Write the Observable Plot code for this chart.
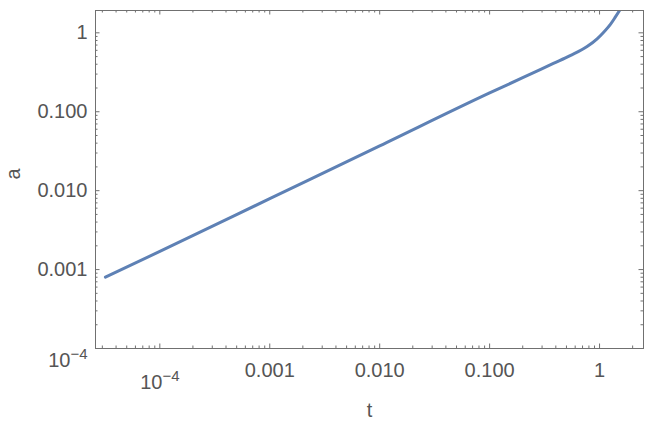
<!DOCTYPE html>
<html><head><meta charset="utf-8">
<script src="https://cdn.jsdelivr.net/npm/d3@7"></script>
<script src="https://cdn.jsdelivr.net/npm/@observablehq/plot@0.6"></script>
<style>body{margin:0;background:#fff} svg{display:block}</style>
</head><body><div id="chart"></div>
<script>
// Scale factor a(t) (log-log)
const tValues = [3.2e-5, 1e-4, 1e-3, 0.01, 0.1, 0.2, 0.38, 0.54, 0.77, 0.95, 1.09, 1.25, 1.39, 1.52];
const aValues = [0.00080, 0.00170, 0.00792, 0.0369, 0.173, 0.270, 0.41, 0.515, 0.670, 0.84, 1.02, 1.27, 1.58, 1.92];
const xTickValues = [1e-4, 1e-3, 1e-2, 1e-1, 1];
const xTickLabels = ["10^-4", "0.001", "0.010", "0.100", "1"];
const yTickValues = [1e-4, 1e-3, 1e-2, 1e-1, 1];
const yTickLabels = ["10^-4", "0.001", "0.010", "0.100", "1"];
const xLabel = "t";
const yLabel = "a";
const xDomain = [2.6e-5, 2.51];
const yDomain = [1e-4, 1.918];

const W = 652, H = 428;
const mL = 95, mR = 9, mT = 10, mB = 80;
const fw = W - mL - mR, fh = H - mT - mB;
const frameColor = "#707070", textColor = "#555555", lineColor = "#5E81B5";
const majorLen = 4.5, minorLen = 2.5;

const data = tValues.map((t, i) => ({t, a: aValues[i]}));
const xTicks = xTickValues.map((v, i) => ({v, label: xTickLabels[i]}));
const yTicks = yTickValues.map((v, i) => ({v, label: yTickLabels[i]}));
function minors(domain) {
  const out = [];
  for (let e = -6; e <= 1; e++) for (let m = 2; m <= 9; m++) {
    const v = m * Math.pow(10, e);
    if (v >= domain[0] && v <= domain[1]) out.push(v);
  }
  return out;
}
const xMinor = minors(xDomain), yMinor = minors(yDomain);

const tick = (len, side) => ({stroke: frameColor, strokeWidth: 1,
  ...(side === "bottom" ? {insetTop: fh - len} : side === "top" ? {insetBottom: fh - len} :
      side === "left" ? {insetRight: fw - len} : {insetLeft: fw - len})});

const svg = Plot.plot({
  width: W, height: H,
  marginLeft: mL, marginRight: mR, marginTop: mT, marginBottom: mB,
  style: {fontFamily: "'Liberation Sans', Arial, sans-serif", background: "white"},
  x: {type: "log", domain: xDomain, axis: null},
  y: {type: "log", domain: yDomain, axis: null},
  marks: [
    Plot.line(data, {x: "t", y: "a", stroke: lineColor, strokeWidth: 3, curve: "monotone-x", clip: true}),
    Plot.ruleX(xTickValues, {x: d => d, ...tick(majorLen, "bottom")}),
    Plot.ruleX(xTickValues, {x: d => d, ...tick(majorLen, "top")}),
    Plot.ruleX(xMinor, {x: d => d, ...tick(minorLen, "bottom")}),
    Plot.ruleX(xMinor, {x: d => d, ...tick(minorLen, "top")}),
    Plot.ruleY(yTickValues, {y: d => d, ...tick(majorLen, "left")}),
    Plot.ruleY(yTickValues, {y: d => d, ...tick(majorLen, "right")}),
    Plot.ruleY(yMinor, {y: d => d, ...tick(minorLen, "left")}),
    Plot.ruleY(yMinor, {y: d => d, ...tick(minorLen, "right")}),
    Plot.frame({stroke: frameColor, strokeWidth: 1}),
    Plot.text(xTicks, {x: "v", text: "label", frameAnchor: "bottom", dy: 22, lineAnchor: "middle", fontSize: 20, fill: textColor}),
    Plot.text(yTicks, {y: "v", text: "label", frameAnchor: "left", dx: -8, textAnchor: "end", lineAnchor: "middle", fontSize: 20, fill: textColor}),
    Plot.text([xLabel], {text: d => d, frameAnchor: "bottom", dy: 62, lineAnchor: "middle", fontSize: 20, fill: textColor}),
    Plot.text([yLabel], {text: d => d, frameAnchor: "left", dx: -82, rotate: -90, lineAnchor: "middle", fontSize: 20, fill: textColor})
  ]
});

// render "10^-4" style labels with a real superscript
const NS = "http://www.w3.org/2000/svg";
svg.querySelectorAll("text").forEach(t => {
  const m = /^10\^(-?\d+)$/.exec(t.textContent);
  if (!m) return;
  t.textContent = "";
  const base = document.createElementNS(NS, "tspan");
  base.setAttribute("dy", "0.62em");
  base.textContent = "10";
  const sup = document.createElementNS(NS, "tspan");
  sup.setAttribute("dy", "-0.55em");
  sup.setAttribute("font-size", "15");
  sup.textContent = m[1].replace("-", "\u2212");
  t.removeAttribute("dy");
  t.appendChild(base); t.appendChild(sup);
});
document.getElementById("chart").appendChild(svg);
</script>
</body></html>
